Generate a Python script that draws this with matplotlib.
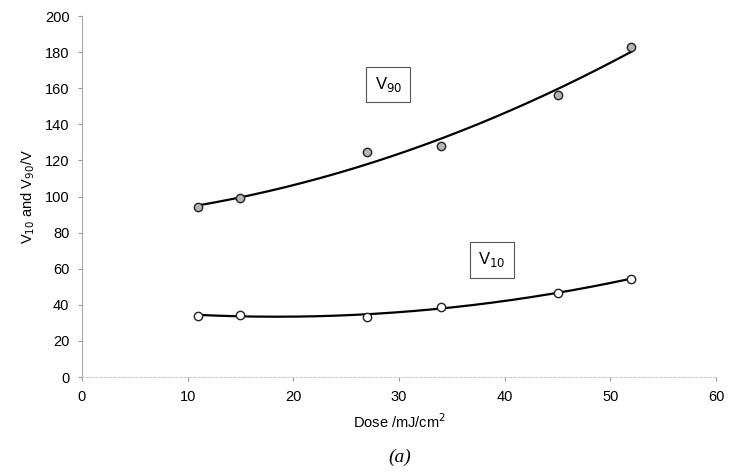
import numpy as np
import matplotlib
matplotlib.use("Agg")
import matplotlib.pyplot as plt

plt.rcParams["font.family"] = ["Liberation Sans", "DejaVu Sans"]

dose = [11, 15, 27, 34, 45, 52]
v90 = [94, 99, 124.5, 128, 156, 183]
v10 = [34, 34.5, 33.5, 39, 46.5, 54.5]

fig = plt.figure(figsize=(7.34, 4.74), dpi=100)
ax = fig.add_axes([0.1117, 0.2046, 0.8638, 0.7616])

xs = np.linspace(min(dose), max(dose), 200)
for y in (v90, v10):
    c = np.polyfit(dose, y, 2)
    ax.plot(xs, np.polyval(c, xs), color="black", lw=1.6, zorder=2)

ax.plot(dose, v90, "o", ms=6, mfc="#b5b5b5", mec="#222222", mew=1.0, zorder=3)
ax.plot(dose, v10, "o", ms=6, mfc="white", mec="#222222", mew=1.0, zorder=3)

ax.set_xlim(0, 60)
ax.set_ylim(0, 200)
ax.set_xticks(range(0, 61, 10))
ax.set_yticks(range(0, 201, 20))
ax.tick_params(labelsize=10.5, length=3, color="#999999", pad=6)
for s in ("top", "right"):
    ax.spines[s].set_visible(False)
ax.spines["left"].set_color("#aaaaaa")
ax.spines["bottom"].set_color("#cccccc")
ax.spines["bottom"].set_linestyle((0, (2, 2)))

ax.set_xlabel("Dose /mJ/cm$^{2}$", fontsize=10.5, labelpad=6)
ax.set_ylabel("V$_{10}$ and V$_{90}$/V", fontsize=10.5, labelpad=6)

box = dict(boxstyle="square,pad=0.5", fc="white", ec="#555555", lw=0.8)
ax.text(29, 162, "V$_{90}$", fontsize=12, ha="center", va="center", bbox=box)
ax.text(38.8, 65, "V$_{10}$", fontsize=12, ha="center", va="center", bbox=box)

fig.text(0.545, 0.035, "(a)", fontsize=14, family="Liberation Serif", style="italic",
         ha="center", va="center")

fig.savefig("out.png", dpi=100)
